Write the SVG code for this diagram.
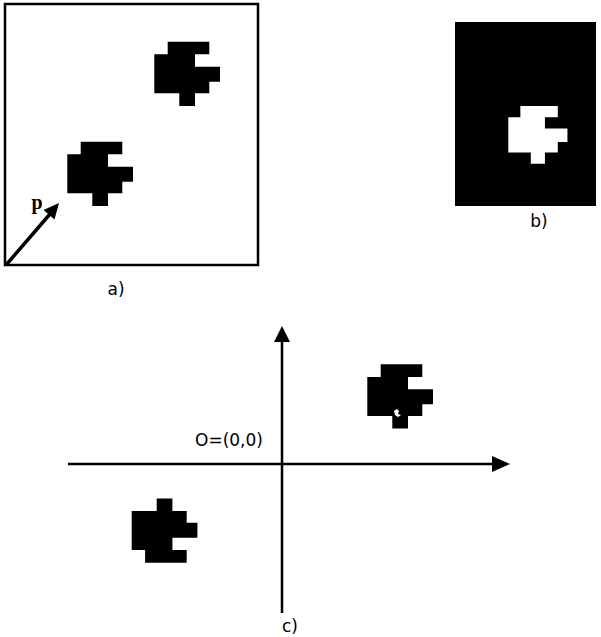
<svg xmlns="http://www.w3.org/2000/svg" width="601" height="637" viewBox="0 0 601 637">
<style>
.lbl{font-family:"DejaVu Sans",sans-serif;font-size:17px;fill:#000;text-anchor:middle}
.ax{stroke:#000;stroke-width:2.5;fill:none}
</style>
<defs>
<path id="blob" d="M13.4,0 H55 V12.6 H40.7 V25 H65.7 V40 H55 V51.6 H40.7 V64.3 H25 V51.6 H0 V12.6 H13.4 Z"/>
</defs>
<rect width="601" height="637" fill="#fff"/>
<g id="panel-a">
<rect x="5" y="4" width="253" height="261" fill="#fff" stroke="#000" stroke-width="2.5"/>
<use href="#blob" transform="translate(154.3,41.7)" fill="#000"/>
<use href="#blob" transform="translate(67.3,141.7)" fill="#000"/>
<line x1="6" y1="265" x2="50" y2="214" stroke="#000" stroke-width="3.5"/>
<polygon points="59,203 54.5,219.5 43.5,210" fill="#000"/>
<text x="37" y="209" font-family="Liberation Serif,serif" font-size="20" font-weight="bold" text-anchor="middle">p</text>
<text class="lbl" x="116" y="295">a)</text>
</g>
<g id="panel-b">
<rect x="455" y="22" width="141" height="184" fill="#000"/>
<use href="#blob" transform="translate(508.3,106) scale(0.9)" fill="#fff"/>
<text class="lbl" x="539" y="227">b)</text>
</g>
<g id="panel-c">
<use href="#blob" transform="translate(367.3,364.3)" fill="#000"/>
<path d="M394,411 l3,-2 l2,2 l-1,3 l3,1 l-3,2 l-3,-2 z" fill="#fff"/>
<use href="#blob" transform="translate(131.7,562.7) scale(1,-1)" fill="#000"/>
<text class="lbl" x="229" y="446">O=(0,0)</text>
<text class="lbl" x="290" y="632">c)</text>
</g>
<g id="connectors">
<line class="ax" x1="282" y1="340" x2="282" y2="613"/>
<polygon points="282,326 290,342 274,342" fill="#000"/>
<line class="ax" x1="68" y1="464" x2="495" y2="464"/>
<polygon points="510,464 492,456 492,472" fill="#000"/>
</g>
</svg>
